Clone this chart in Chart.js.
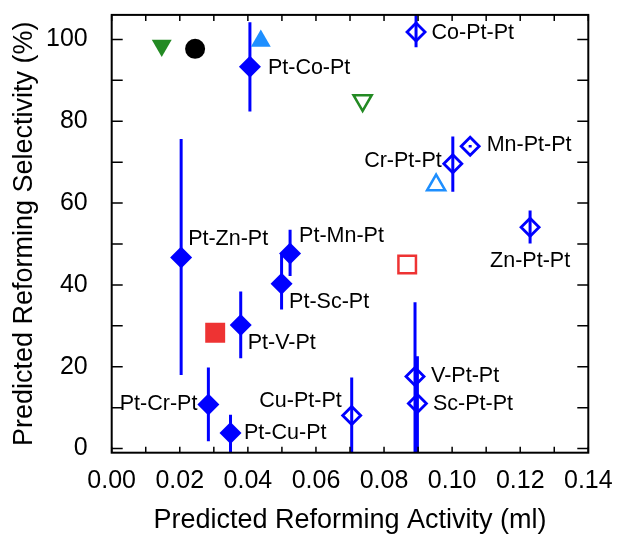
<!DOCTYPE html>
<html>
<head>
<meta charset="utf-8">
<script src="https://cdn.jsdelivr.net/npm/chart.js@4.4.1/dist/chart.umd.min.js"></script>
<style>
  body { margin: 0; background: #fff; }
  canvas { display: block; }
</style>
</head>
<body>
<canvas id="myChart" width="618" height="537"></canvas>
<script>
// Pt-X-Pt catalysts (filled diamonds) with error bar ranges
const ptXPtNames = ['Pt-Co-Pt', 'Pt-Zn-Pt', 'Pt-Mn-Pt', 'Pt-Sc-Pt', 'Pt-V-Pt', 'Pt-Cr-Pt', 'Pt-Cu-Pt'];
const ptXPtActivity = [0.0406, 0.0204, 0.0524, 0.0499, 0.0379, 0.0284, 0.0349];
const ptXPtSelectivity = [93.3, 46.7, 47.7, 40.3, 30.2, 10.8, 3.8];
const ptXPtLow = [82.4, 18.0, 42.2, 34.0, 22.1, 1.8, -3];
const ptXPtHigh = [104.2, 75.7, 53.5, 47.7, 38.4, 19.8, 8.3];

// X-Pt-Pt catalysts (open diamonds) with error bar ranges
const xPtPtNames = ['Co-Pt-Pt', 'Mn-Pt-Pt', 'Cr-Pt-Pt', 'Zn-Pt-Pt', 'V-Pt-Pt', 'Sc-Pt-Pt', 'Cu-Pt-Pt'];
const xPtPtActivity = [0.0894, 0.1053, 0.1002, 0.1229, 0.0891, 0.0898, 0.0705];
const xPtPtSelectivity = [101.8, 73.9, 69.6, 54.1, 17.6, 11.0, 8.1];
const xPtPtLow = [98.1, 73.6, 62.8, 50.1, -3, -3, -3];
const xPtPtHigh = [107, 74.2, 76.3, 58.2, 35.8, 22.6, 17.4];

// Reference points without labels
const greenFilledPoint = [0.0147, 98.5];
const blackCirclePoint = [0.0245, 97.7];
const blueFilledPoint = [0.0438, 99.6];
const greenOpenPoint = [0.0737, 85.1];
const blueOpenPoint = [0.0953, 64.4];
const redFilledPoint = [0.0304, 28.3];
const redOpenPoint = [0.0868, 45.0];

// Axis tick labels and tick marks
const xTickLabels = [0, 0.02, 0.04, 0.06, 0.08, 0.10, 0.12, 0.14];
const yTickLabels = [0, 20, 40, 60, 80, 100];
const xTickMarks = [0, 0.01, 0.02, 0.03, 0.04, 0.05, 0.06, 0.07, 0.08, 0.09, 0.10, 0.11, 0.12, 0.13, 0.14];
const yTickMarks = [0, 10, 20, 30, 40, 50, 60, 70, 80, 90, 100];

const blue = 'rgb(0, 0, 255)';
const green = '#238a23';
const lightBlue = '#1e8fff';
const red = '#ee3333';

// Where each label sits relative to its marker: [dx, dy, align]
const labelPlacement = {
    'Pt-Co-Pt': [18, 1, 'left'],
    'Pt-Zn-Pt': [7, -18, 'left'],
    'Pt-Mn-Pt': [9, -17.5, 'left'],
    'Pt-Sc-Pt': [7.5, 18.5, 'left'],
    'Pt-V-Pt': [7, 18.5, 'left'],
    'Pt-Cr-Pt': [-11, -0.5, 'right'],
    'Pt-Cu-Pt': [13.5, 0, 'left'],
    'Co-Pt-Pt': [15.5, 0.5, 'left'],
    'Mn-Pt-Pt': [16.5, -1, 'left'],
    'Cr-Pt-Pt': [-11, -2.5, 'right'],
    'Zn-Pt-Pt': [0, 34, 'center'],
    'V-Pt-Pt': [16, -1, 'left'],
    'Sc-Pt-Pt': [15.5, 0, 'left'],
    'Cu-Pt-Pt': [-10, -14, 'right']
};

function toPoints(xs, ys) {
    return xs.map((v, i) => ({x: v, y: ys[i]}));
}

// Vertical error bars, drawn under the markers
const errorBars = {
    id: 'errorBars',
    beforeDatasetsDraw(chart) {
        const {ctx, chartArea, scales: {x, y}} = chart;
        ctx.save();
        ctx.beginPath();
        ctx.rect(chartArea.left, chartArea.top, chartArea.right - chartArea.left, chartArea.bottom - chartArea.top);
        ctx.clip();
        ctx.strokeStyle = blue;
        ctx.lineWidth = 3;
        const draw = (xs, lo, hi) => {
            xs.forEach((v, i) => {
                const px = x.getPixelForValue(v);
                ctx.beginPath();
                ctx.moveTo(px, y.getPixelForValue(lo[i]));
                ctx.lineTo(px, y.getPixelForValue(hi[i]));
                ctx.stroke();
            });
        };
        draw(ptXPtActivity, ptXPtLow, ptXPtHigh);
        draw(xPtPtActivity, xPtPtLow, xPtPtHigh);
        ctx.restore();
    }
};

// Text labels next to the catalyst markers
const pointLabels = {
    id: 'pointLabels',
    afterDatasetsDraw(chart) {
        const {ctx, scales: {x, y}} = chart;
        ctx.save();
        ctx.font = "21.5px 'Liberation Sans', Arial, sans-serif";
        ctx.fillStyle = '#000';
        ctx.textBaseline = 'middle';
        const draw = (names, xs, ys) => {
            names.forEach((name, i) => {
                const p = labelPlacement[name];
                ctx.textAlign = p[2];
                ctx.fillText(name, x.getPixelForValue(xs[i]) + p[0], y.getPixelForValue(ys[i]) + p[1]);
            });
        };
        draw(ptXPtNames, ptXPtActivity, ptXPtSelectivity);
        draw(xPtPtNames, xPtPtActivity, xPtPtSelectivity);
        ctx.restore();
    }
};

// Box frame with inward tick marks on all four sides
const frame = {
    id: 'frame',
    afterDraw(chart) {
        const {ctx, chartArea: a, scales: {x, y}} = chart;
        ctx.save();
        ctx.strokeStyle = '#000';
        ctx.lineWidth = 1.5;
        ctx.beginPath();
        xTickMarks.forEach(v => {
            const px = x.getPixelForValue(v);
            ctx.moveTo(px, a.bottom); ctx.lineTo(px, a.bottom - 6);
            ctx.moveTo(px, a.top); ctx.lineTo(px, a.top + 6);
        });
        yTickMarks.forEach(v => {
            const py = y.getPixelForValue(v);
            ctx.moveTo(a.left, py); ctx.lineTo(a.left + 11, py);
            ctx.moveTo(a.right, py); ctx.lineTo(a.right - 11, py);
        });
        ctx.stroke();
        ctx.lineWidth = 2;
        ctx.strokeRect(a.left, a.top, a.right - a.left, a.bottom - a.top);
        ctx.restore();
    }
};

// Fixed axis box size, and no extra edge padding from tick labels
function fixAxis(size) {
    return scale => {
        if (scale.isHorizontal()) scale.height = size; else scale.width = size;
        scale.paddingTop = 0;
        scale.paddingBottom = 0;
        scale.paddingLeft = 0;
        scale.paddingRight = 0;
    };
}

document.addEventListener('DOMContentLoaded', function() {
    Chart.defaults.font.family = "'Liberation Sans', Arial, sans-serif";
    Chart.defaults.color = '#000';

    const data = {
        datasets: [
            {
                data: toPoints(xPtPtActivity, xPtPtSelectivity),
                pointStyle: 'rectRot', pointRadius: 9,
                backgroundColor: 'rgba(0,0,0,0)', borderColor: blue, borderWidth: 2.8
            },
            {
                data: toPoints(ptXPtActivity, ptXPtSelectivity),
                pointStyle: 'rectRot', pointRadius: 11,
                backgroundColor: blue, borderColor: blue, borderWidth: 0
            },
            {
                data: [{x: greenFilledPoint[0], y: greenFilledPoint[1]}],
                pointStyle: 'triangle', rotation: 180, pointRadius: 11.5,
                backgroundColor: green, borderWidth: 0
            },
            {
                data: [{x: blackCirclePoint[0], y: blackCirclePoint[1]}],
                pointStyle: 'circle', pointRadius: 10,
                backgroundColor: '#000', borderWidth: 0
            },
            {
                data: [{x: blueFilledPoint[0], y: blueFilledPoint[1]}],
                pointStyle: 'triangle', pointRadius: 11.5,
                backgroundColor: lightBlue, borderWidth: 0
            },
            {
                data: [{x: greenOpenPoint[0], y: greenOpenPoint[1]}],
                pointStyle: 'triangle', rotation: 180, pointRadius: 10.5,
                backgroundColor: 'rgba(0,0,0,0)', borderColor: green, borderWidth: 2.5
            },
            {
                data: [{x: blueOpenPoint[0], y: blueOpenPoint[1]}],
                pointStyle: 'triangle', pointRadius: 10.5,
                backgroundColor: 'rgba(0,0,0,0)', borderColor: lightBlue, borderWidth: 2.5
            },
            {
                data: [{x: redFilledPoint[0], y: redFilledPoint[1]}],
                pointStyle: 'rect', pointRadius: 14.1,
                backgroundColor: red, borderWidth: 0
            },
            {
                data: [{x: redOpenPoint[0], y: redOpenPoint[1]}],
                pointStyle: 'rect', pointRadius: 12.4,
                backgroundColor: 'rgba(0,0,0,0)', borderColor: red, borderWidth: 2.5
            }
        ]
    };

    const config = {
        type: 'scatter',
        data: data,
        options: {
            responsive: false,
            animation: false,
            events: [],
            layout: { padding: { left: 0, top: 11, right: 29.7, bottom: 0 } },
            plugins: { legend: { display: false }, tooltip: { enabled: false } },
            scales: {
                x: {
                    type: 'linear', position: 'bottom',
                    min: 0, max: 0.14,
                    grid: { display: false }, border: { display: false },
                    afterBuildTicks: scale => { scale.ticks = xTickLabels.map(v => ({value: v})); },
                    afterFit: fixAxis(84.3),
                    ticks: { font: { size: 25 }, padding: 5, maxRotation: 0, callback: v => v.toFixed(2) },
                    title: { display: true, text: 'Predicted Reforming Activity (ml)', font: { size: 27 }, padding: { top: 0, bottom: 0 } }
                },
                y: {
                    type: 'linear', position: 'left',
                    min: -1, max: 106,
                    grid: { display: false }, border: { display: false },
                    afterBuildTicks: scale => { scale.ticks = yTickLabels.map(v => ({value: v})); },
                    afterFit: fixAxis(111.7),
                    ticks: { font: { size: 25 }, padding: 16, callback: v => v },
                    title: { display: true, text: 'Predicted Reforming Selectivity (%)', font: { size: 27 }, padding: { top: 8, bottom: 0 } }
                }
            }
        },
        plugins: [errorBars, pointLabels, frame]
    };

    new Chart(document.getElementById('myChart'), config);
});
</script>
</body>
</html>
